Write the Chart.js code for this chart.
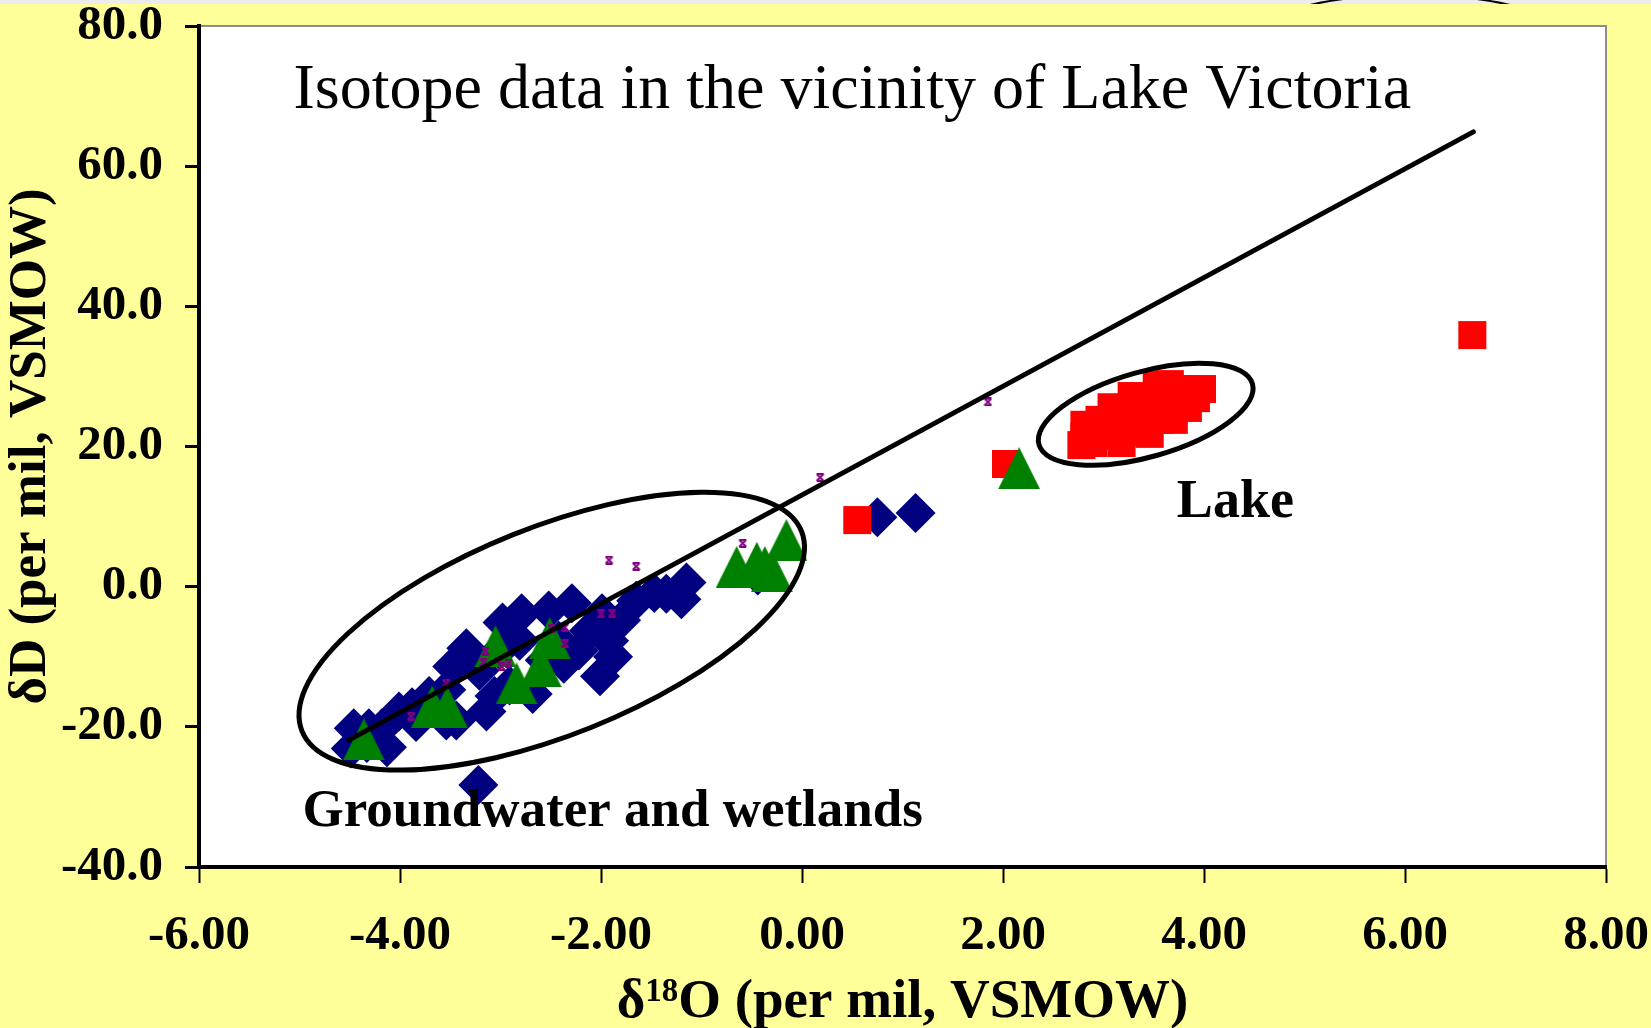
<!DOCTYPE html>
<html>
<head>
<meta charset="utf-8">
<title>Isotope data in the vicinity of Lake Victoria</title>
<script src="https://cdn.jsdelivr.net/npm/chart.js@4.4.1/dist/chart.umd.min.js"></script>
<style>
  html, body { margin: 0; padding: 0; background: #FFFF99; overflow: hidden; }
  #wrap { position: relative; width: 1651px; height: 1028px; }
</style>
</head>
<body>
<div id="wrap"><canvas id="isoChart" width="1651" height="1028"></canvas></div>
<script>
// Isotope scatter (d18O vs dD)

const SERIF = "'Liberation Serif', 'Times New Roman', serif";

// blue diamonds
const groundwaterO18 = [-4.46, -4.49, -4.31, -4.18, -4.13, -4.33, -3.88, -3.54, -3.44, -3.84, -3.14, -3.54, -3.48, -4.01, -3.71,
    -3.34, -3.21, -3.01, -3.06, -2.91, -2.81, -2.68, -2.56, -2.42, -2.37, -2.98, -2.79, -2.52, -2.29, -2.22, -2.12, -2.01,
    -1.99, -1.92, -1.88, -1.80, -1.65, -1.47, -1.35, -1.15, -1.20, -0.44, 0.75, 1.13, -3.22];
const groundwaterD = [-20.2, -23.1, -20.2, -20.2, -22.9, -22.3, -17.2, -19.1, -19.1, -19.3, -17.8, -14.7, -11.4, -17.8, -15.6,
    -8.8, -12.0, -9.1, -15.6, -14.1, -7.7, -15.3, -10.5, -7.7, -11.0, -5.1, -3.8, -3.4, -2.35, -9.1, -6.3, -12.8,
    -3.8, -7.7, -10.0, -4.8, -2.0, -0.9, -1.0, 0.6, -1.8, 1.6, 9.9, 10.5, -28.3];

// red squares
const lakeO18 = [2.78, 2.90, 2.81, 2.81, 2.96, 3.06, 3.18, 3.28, 3.42, 3.56, 3.68, 3.82, 3.98, 3.92, 3.16, 3.28, 3.53, 3.66,
    3.79, 3.41, 3.56, 3.36, 3.24, 3.46, 3.70, 3.84, 3.08, 2.94, 0.55, 2.03, 6.67];
const lakeD = [20.2, 20.5, 23.1, 21.4, 23.8, 21.6, 20.5, 22.1, 23.2, 23.8, 25.3, 26.9, 28.2, 26.9, 25.5, 27.2, 28.8, 28.9,
    28.2, 26.6, 27.4, 24.9, 25.5, 21.8, 23.8, 25.5, 25.6, 22.1, 9.5, 17.5, 35.9];

// green triangles
const wetlandO18 = [2.16, -0.155, -0.45, -0.65, -0.37, -0.30, -3.05, -2.51, -2.60, -2.84, -3.68, -3.53, -4.36];
const wetlandD = [16.9, 6.65, 3.4, 2.8, 2.8, 2.2, -8.5, -7.35, -11.35, -13.8, -17.1, -17.2, -21.8];

// small purple stars
const otherO18 = [0.18, -0.59, 1.85, -1.92, -1.65, -2.00, -1.89, -2.36, -2.36, -3.15, -3.17, -2.99, -2.92, -2.49, -3.54, -3.89];
const otherD = [15.6, 6.2, 26.35, 3.8, 2.9, -3.9, -3.8, -5.8, -8.1, -9.2, -10.8, -11.4, -10.9, -6.0, -13.8, -18.5];

// meteoric water line end points
const lineO18 = [-4.51, 6.68];
const lineD = [-21.9, 64.9];

const xTicks = [-6, -4, -2, 0, 2, 4, 6, 8];
const yTicks = [-40, -20, 0, 20, 40, 60, 80];

// helpers
function toPoints(xs, ys) {
    return xs.map((x, i) => ({ x: x, y: ys[i] }));
}

function makeTriangle(w, h, color) {
    const c = document.createElement('canvas');
    c.width = w; c.height = h;
    const g = c.getContext('2d');
    g.fillStyle = color;
    g.beginPath();
    g.moveTo(w / 2, 0);
    g.lineTo(w, h);
    g.lineTo(0, h);
    g.closePath();
    g.fill();
    return c;
}

function makeStar(s, color) {
    const c = document.createElement('canvas');
    c.width = s; c.height = s;
    const g = c.getContext('2d');
    g.strokeStyle = color;
    g.lineWidth = 2;
    g.beginPath();
    g.moveTo(1, 1); g.lineTo(s - 1, s - 1);
    g.moveTo(s - 1, 1); g.lineTo(1, s - 1);
    g.moveTo(1, 1); g.lineTo(s - 1, 1);
    g.moveTo(1, s - 1); g.lineTo(s - 1, s - 1);
    g.stroke();
    return c;
}

// annotations drawn on top of the plot (data coords for centres)
const ellipses = [
    { cx: -2.49, cy: -6.35, rx: 269, ry: 104, angle: 21.8 },
    { cx: 3.42, cy: 24.6, rx: 111, ry: 42.6, angle: 15.9 }
];
const notes = [
    { text: 'Isotope data in the vicinity of Lake Victoria', x: -5.06, y: 68.3, font: '64px ' + SERIF },
    { text: 'Lake', x: 3.73, y: 10.0, font: 'bold 54px ' + SERIF },
    { text: 'Groundwater and wetlands', x: -4.97, y: -34.2, font: 'bold 53px ' + SERIF }
];

const backdrop = {
    id: 'backdrop',
    beforeDraw(chart) {
        const { ctx, chartArea: a } = chart;
        ctx.save();
        ctx.fillStyle = '#FFFF99';
        ctx.fillRect(0, 0, chart.width, chart.height);
        ctx.fillStyle = '#ECECEC';
        ctx.fillRect(0, 0, chart.width, 4);
        ctx.beginPath();
        ctx.rect(0, 0, chart.width, 4);
        ctx.clip();
        ctx.beginPath();
        ctx.ellipse(1410, 40, 159, 45, 0, 0, Math.PI * 2);
        ctx.lineWidth = 2;
        ctx.strokeStyle = '#000';
        ctx.stroke();
        ctx.restore();

        ctx.save();
        ctx.fillStyle = '#FFFFFF';
        ctx.fillRect(a.left, a.top, a.right - a.left, a.bottom - a.top);
        ctx.strokeStyle = '#8C8C8C';
        ctx.lineWidth = 2;
        ctx.beginPath();
        ctx.moveTo(a.left, a.top);
        ctx.lineTo(a.right, a.top);
        ctx.lineTo(a.right, a.bottom);
        ctx.stroke();
        ctx.restore();
    }
};

const annotate = {
    id: 'annotate',
    afterDatasetsDraw(chart) {
        const { ctx, scales } = chart;
        ctx.save();
        ctx.strokeStyle = '#000';
        ctx.lineWidth = 5;
        ellipses.forEach(e => {
            ctx.beginPath();
            ctx.ellipse(scales.x.getPixelForValue(e.cx), scales.y.getPixelForValue(e.cy),
                e.rx, e.ry, -e.angle * Math.PI / 180, 0, Math.PI * 2);
            ctx.stroke();
        });
        ctx.fillStyle = '#000';
        ctx.textAlign = 'left';
        ctx.textBaseline = 'alphabetic';
        notes.forEach(n => {
            ctx.font = n.font;
            ctx.fillText(n.text, scales.x.getPixelForValue(n.x), scales.y.getPixelForValue(n.y));
        });
        ctx.restore();
    },
    afterDraw(chart) {
        // x axis title with superscript 18
        const { ctx, chartArea: a } = chart;
        const big = 'bold 55px ' + SERIF;
        const small = 'bold 33px ' + SERIF;
        const parts = [['\u03B4', big, 0], ['18', small, -16], ['O (per mil, VSMOW)', big, 0]];
        ctx.save();
        ctx.fillStyle = '#000';
        ctx.textBaseline = 'alphabetic';
        let total = 0;
        parts.forEach(p => { ctx.font = p[1]; total += ctx.measureText(p[0]).width; });
        let x = (a.left + a.right) / 2 - total / 2;
        const base = 1017;
        parts.forEach(p => {
            ctx.font = p[1];
            ctx.fillText(p[0], x, base + p[2]);
            x += ctx.measureText(p[0]).width;
        });
        ctx.restore();
    }
};

const ctx = document.getElementById('isoChart').getContext('2d');

const isoChart = new Chart(ctx, {
    type: 'scatter',
    data: {
        datasets: [
            {
                label: 'Line',
                type: 'line',
                data: toPoints(lineO18, lineD),
                borderColor: '#000000',
                borderWidth: 5,
                borderCapStyle: 'round',
                pointRadius: 0,
                fill: false,
                order: 0
            },
            {
                label: 'Other',
                data: toPoints(otherO18, otherD),
                pointStyle: makeStar(9, '#800080'),
                order: 1
            },
            {
                label: 'Wetlands',
                data: toPoints(wetlandO18, wetlandD),
                pointStyle: makeTriangle(42, 42, '#008000'),
                order: 2
            },
            {
                label: 'Lake',
                data: toPoints(lakeO18, lakeD),
                pointStyle: 'rect',
                pointRadius: 19.8,
                backgroundColor: '#FF0000',
                borderWidth: 0,
                order: 3
            },
            {
                label: 'Groundwater',
                data: toPoints(groundwaterO18, groundwaterD),
                pointStyle: 'rectRot',
                pointRadius: 20,
                backgroundColor: '#000080',
                borderWidth: 0,
                order: 4
            }
        ]
    },
    options: {
        responsive: false,
        animation: false,
        events: [],
        layout: {
            padding: { top: 26, right: 45, bottom: 0, left: 0 }
        },
        plugins: {
            legend: { display: false },
            tooltip: { enabled: false }
        },
        scales: {
            x: {
                type: 'linear',
                min: -6,
                max: 8,
                afterBuildTicks: scale => { scale.ticks = xTicks.map(v => ({ value: v })); },
                afterFit: scale => {
                    scale.height = 161;
                    scale.paddingLeft = 0;
                    scale.paddingRight = 0;
                },
                border: { color: '#000', width: 4 },
                grid: { drawOnChartArea: false, drawTicks: true, tickLength: 16, tickColor: '#000', tickWidth: 2 },
                ticks: {
                    color: '#000',
                    padding: 24,
                    maxRotation: 0,
                    font: { family: SERIF, size: 49, weight: 'bold' },
                    callback: v => Number(v).toFixed(2)
                }
            },
            y: {
                type: 'linear',
                min: -40,
                max: 80,
                afterBuildTicks: scale => { scale.ticks = yTicks.map(v => ({ value: v })); },
                afterFit: scale => {
                    scale.width = 199;
                    scale.paddingTop = 0;
                    scale.paddingBottom = 0;
                },
                border: { color: '#000', width: 4 },
                grid: { drawOnChartArea: false, drawTicks: true, tickLength: 14, tickColor: '#000', tickWidth: 3 },
                ticks: {
                    color: '#000',
                    padding: 22,
                    font: { family: SERIF, size: 49, weight: 'bold' },
                    callback: v => Number(v).toFixed(1)
                },
                title: {
                    display: true,
                    text: '\u03B4D (per mil, VSMOW)',
                    color: '#000',
                    padding: { top: 0, bottom: 0 },
                    font: { family: SERIF, size: 53, weight: 'bold' }
                }
            }
        }
    },
    plugins: [backdrop, annotate]
});
</script>
</body>
</html>
